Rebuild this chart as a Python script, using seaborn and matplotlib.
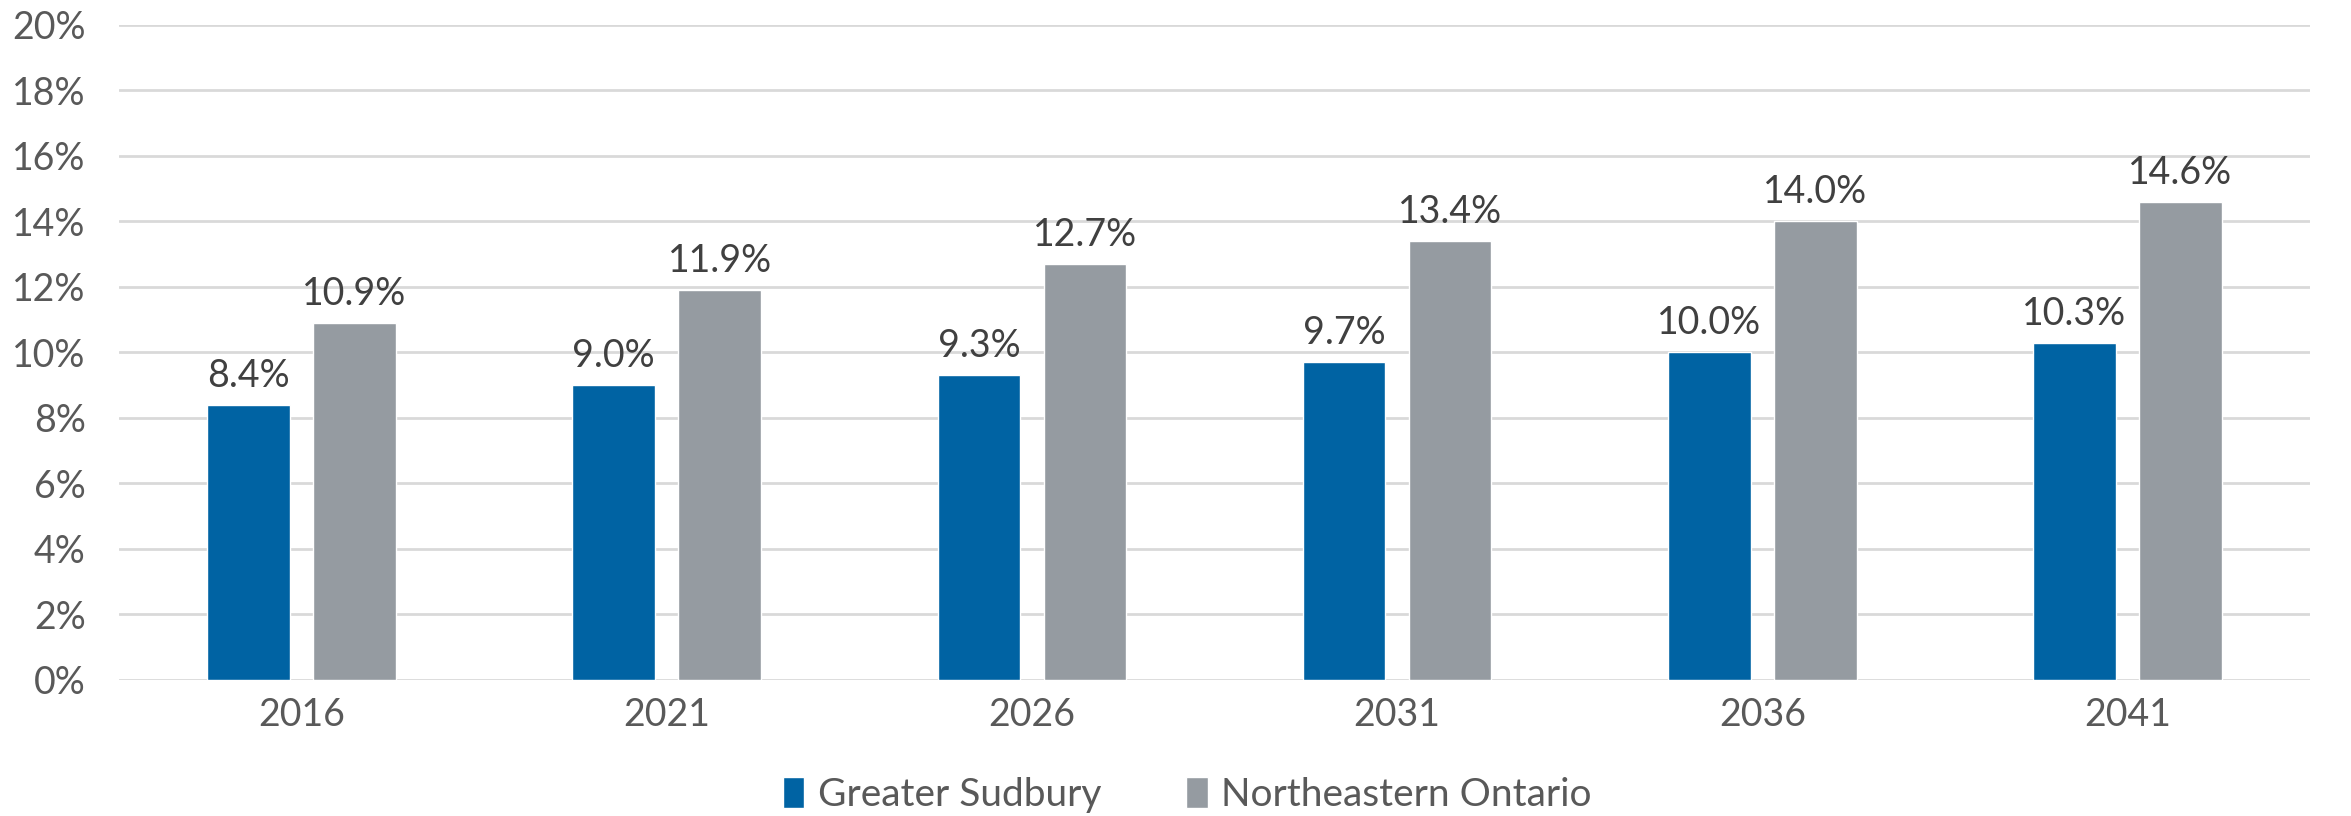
import matplotlib
matplotlib.use("Agg")
import matplotlib.pyplot as plt
import pandas as pd
import seaborn as sns

years = ["2016", "2021", "2026", "2031", "2036", "2041"]
sudbury = [8.4, 9.0, 9.3, 9.7, 10.0, 10.3]
northeast = [10.9, 11.9, 12.7, 13.4, 14.0, 14.6]
series = ["Greater Sudbury", "Northeastern Ontario"]
colors = ["#0063A3", "#959BA1"]

df = pd.DataFrame({
    "year": years * 2,
    "region": [series[0]] * len(years) + [series[1]] * len(years),
    "value": sudbury + northeast,
})

sns.set_style("white")
plt.rcParams["font.family"] = ["Lato", "DejaVu Sans"]

fig = plt.figure(figsize=(23.51, 8.16), dpi=100)
ax = fig.add_axes([0.0506, 0.1667, 0.932, 0.8027])

sns.barplot(data=df, x="year", y="value", hue="region", palette=colors,
            width=0.58, gap=0.22, saturation=1, ax=ax, legend=True)

ax.set_ylim(0, 20)
ax.set_yticks(range(0, 21, 2))
ax.set_yticklabels([f"{v}%" for v in range(0, 21, 2)])
ax.yaxis.grid(True, color="#D9D9D9", linewidth=2)
ax.set_axisbelow(True)
for s in ax.spines.values():
    s.set_visible(False)
ax.tick_params(axis="y", length=0, pad=24, labelsize=27, labelcolor="#595959")
ax.tick_params(axis="x", length=0, pad=12, labelsize=27, labelcolor="#595959")
ax.set_xlabel("")
ax.set_ylabel("")

for cont in ax.containers:
    ax.bar_label(cont, fmt="%.1f%%", padding=8, fontsize=27, color="#404040")

handles, labels = ax.get_legend_handles_labels()
ax.legend_.remove()
fig.legend(handles, labels, loc="center", bbox_to_anchor=(0.505, 0.026), ncol=2,
           frameon=False, fontsize=28, labelcolor="#595959",
           handlelength=0.55, handleheight=0.85, handletextpad=0.35, columnspacing=2.2)

fig.savefig("out.png", dpi=100)
